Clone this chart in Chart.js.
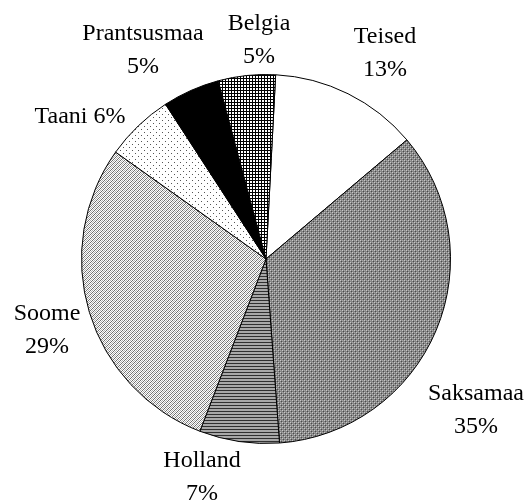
<!DOCTYPE html>
<html>
<head>
<meta charset="utf-8">
<script src="https://cdn.jsdelivr.net/npm/chart.js@4/dist/chart.umd.min.js"></script>
<style>
  html, body { margin: 0; padding: 0; background: #fff; }
  #wrap { width: 527px; height: 503px; position: relative; }
</style>
</head>
<body>
<div id="wrap"><canvas id="pie"></canvas></div>
<script>
// ---- DATA ----
const riigid = ['Teised', 'Saksamaa', 'Holland', 'Soome', 'Taani', 'Prantsusmaa', 'Belgia'];
const osakaal = [13, 35, 7, 29, 6, 5, 5];

// ---- LAYOUT (label anchors relative to pie centre, baseline of first line) ----
const labelNihe = [
  { dx: 119, dy: -216, yksRida: false },
  { dx: 210, dy: 141, yksRida: false },
  { dx: -64, dy: 208, yksRida: false },
  { dx: -219, dy: 61, yksRida: false },
  { dx: -186, dy: -136, yksRida: true },
  { dx: -123, dy: -219, yksRida: false },
  { dx: -7, dy: -229, yksRida: false }
];

// ---- PATTERNS ----
function muster(w, h, joonista){
  const c = document.createElement('canvas');
  c.width = w; c.height = h;
  const g = c.getContext('2d');
  joonista(g);
  return document.getElementById('pie').getContext('2d').createPattern(c, 'repeat');
}
function px(g, x, y, col){ g.fillStyle = col; g.fillRect(x, y, 1, 1); }

const mustrid = [
  '#ffffff',
  // Saksamaa: dense grey dotted
  muster(4, 4, g => {
    g.fillStyle = '#858585'; g.fillRect(0, 0, 4, 4);
    px(g, 0, 0, '#c8c8c8'); px(g, 2, 2, '#c8c8c8');
    px(g, 1, 1, '#4a4a4a'); px(g, 3, 3, '#4a4a4a');
    px(g, 0, 2, '#a8a8a8'); px(g, 2, 0, '#a8a8a8');
  }),
  // Holland: horizontal lines
  muster(3, 3, g => {
    g.fillStyle = '#a8a8a8'; g.fillRect(0, 0, 3, 3);
    g.fillStyle = '#303030'; g.fillRect(0, 0, 3, 1);
  }),
  // Soome: fine light checker with diagonal dark dots
  muster(4, 4, g => {
    g.fillStyle = '#ffffff'; g.fillRect(0, 0, 4, 4);
    for (let y = 0; y < 4; y++){
      for (let x = 0; x < 4; x++){
        if ((x + y) % 2 === 0) px(g, x, y, (x + y) % 4 === 0 ? '#6e6e6e' : '#b0b0b0');
      }
    }
  }),
  // Taani: sparse dots
  muster(6, 6, g => {
    g.fillStyle = '#ffffff'; g.fillRect(0, 0, 6, 6);
    px(g, 0, 0, '#555'); px(g, 3, 3, '#555');
  }),
  '#000000',
  // Belgia: grid
  muster(3, 3, g => {
    g.fillStyle = '#ffffff'; g.fillRect(0, 0, 3, 3);
    g.fillStyle = '#000000'; g.fillRect(0, 0, 3, 1); g.fillRect(0, 0, 1, 3);
  })
];

// ---- LABELS ----
const siltPlugin = {
  id: 'sildid',
  afterDraw(chart){
    const ctx = chart.ctx;
    const arcs = chart.getDatasetMeta(0).data;
    ctx.save();
    ctx.fillStyle = '#000';
    ctx.font = '24px "Liberation Serif", "Times New Roman", serif';
    ctx.textAlign = 'center';
    ctx.textBaseline = 'alphabetic';
    arcs.forEach((arc, i) => {
      const n = labelNihe[i];
      const x = arc.x + n.dx, y = arc.y + n.dy;
      const pct = chart.data.datasets[0].data[i] + '%';
      if (n.yksRida){
        ctx.fillText(chart.data.labels[i] + ' ' + pct, x, y);
      } else {
        ctx.fillText(chart.data.labels[i], x, y);
        ctx.fillText(pct, x, y + 33);
      }
    });
    ctx.restore();
  }
};

// ---- CHART ----
new Chart(document.getElementById('pie'), {
  type: 'pie',
  data: {
    labels: riigid,
    datasets: [{
      data: osakaal,
      backgroundColor: mustrid,
      borderColor: '#000000',
      borderWidth: 1,
      hoverOffset: 0
    }]
  },
  options: {
    responsive: true,
    maintainAspectRatio: false,
    animation: false,
    rotation: 3,
    layout: { padding: { left: 81, right: 76, top: 74, bottom: 59 } },
    plugins: {
      legend: { display: false },
      tooltip: { enabled: false }
    }
  },
  plugins: [siltPlugin]
});
</script>
</body>
</html>
